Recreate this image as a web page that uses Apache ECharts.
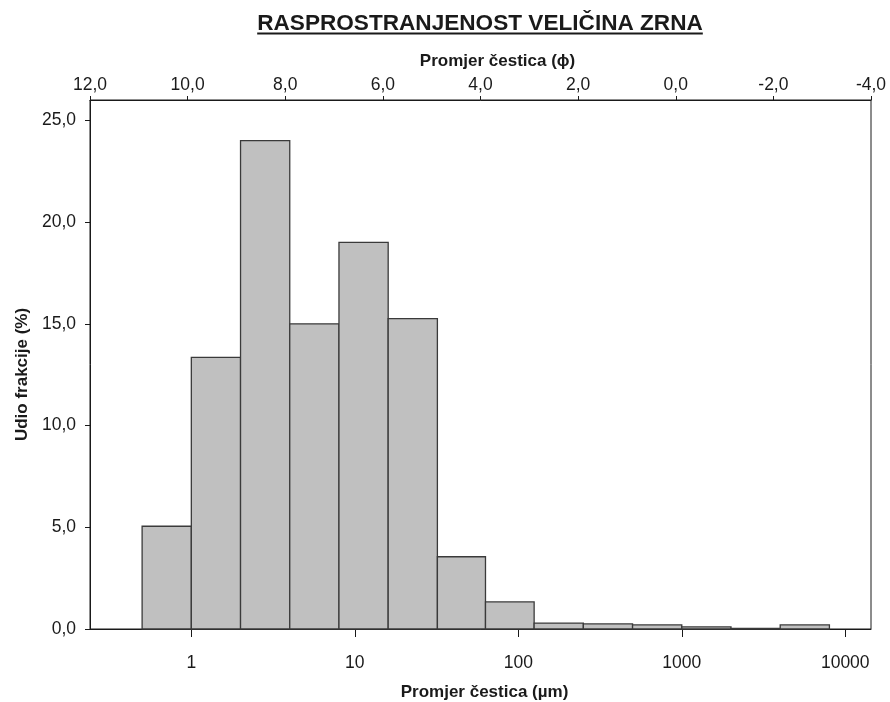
<!DOCTYPE html>
<html>
<head>
<meta charset="utf-8">
<script src="https://cdn.jsdelivr.net/npm/echarts@6/dist/echarts.min.js"></script>
<style>
  html, body { margin: 0; padding: 0; background: #fff; }
  #chart { width: 890px; height: 702px; }
</style>
</head>
<body>
<div id="chart"></div>
<script>
// Grain-size classes: lower / upper bound in µm and share of each class in %
const classLowerUm = [0.5, 1, 2, 4, 8, 16, 32, 63, 125, 250, 500, 1000, 2000, 4000];
const classUpperUm = [1, 2, 4, 8, 16, 32, 63, 125, 250, 500, 1000, 2000, 4000, 8000];
const classSharePct = [5.05, 13.35, 24.0, 15.0, 19.0, 15.25, 3.55, 1.33, 0.29, 0.25, 0.2, 0.1, 0.03, 0.2];

// Tick values
const umTickValues = [1, 10, 100, 1000, 10000];
const pctTickValues = [0, 5, 10, 15, 20, 25];
const phiMin = -4, phiMax = 12, phiStep = 2;

// Axis extents
const umAxisMin = 0.24, umAxisMax = 14370;
const pctAxisMax = 26;

const FONT = '"Liberation Sans", Arial, sans-serif';
const INK = '#1a1a1a';
const titleText = 'RASPROSTRANJENOST VELIČINA ZRNA';
const titleSize = 22.6;
const tickSize = 17.5;

const commaFmt = v => v.toFixed(1).replace('.', ',');

// bars are placed on a log10 µm value axis
const barData = classSharePct.map((v, i) => [
  Math.log10(classLowerUm[i]), Math.log10(classUpperUm[i]), v
]);

// width of the title, for its underline
const measureCtx = document.createElement('canvas').getContext('2d');
measureCtx.font = 'bold ' + titleSize + 'px "Liberation Sans"';
const titleWidth = measureCtx.measureText(titleText).width;
const titleCx = 480;

const chart = echarts.init(document.getElementById('chart'), null, { renderer: 'canvas' });

const option = {
  animation: false,
  backgroundColor: '#fff',
  textStyle: { fontFamily: FONT, color: INK },
  grid: {
    left: 90, right: 19, top: 100, bottom: 73,
    containLabel: false,
    outerBoundsMode: 'none',
    show: true, borderColor: INK, borderWidth: 1, backgroundColor: 'transparent'
  },
  graphic: [
    {
      type: 'text', x: titleCx, y: 23.5,
      style: {
        text: titleText, fill: INK, align: 'center', verticalAlign: 'middle',
        font: 'bold ' + titleSize + 'px ' + FONT
      }
    },
    {
      type: 'line',
      shape: { x1: titleCx - titleWidth / 2, y1: 33.5, x2: titleCx + titleWidth / 2, y2: 33.5 },
      style: { stroke: INK, lineWidth: 2 }
    }
  ],
  xAxis: [
    {
      type: 'value',
      position: 'bottom',
      min: Math.log10(umAxisMin),
      max: Math.log10(umAxisMax),
      name: 'Promjer čestica (µm)',
      nameLocation: 'middle',
      nameGap: 55,
      nameTextStyle: { fontWeight: 'bold', fontSize: 17, color: INK, padding: [0, 0, 0, 8] },
      splitLine: { show: false },
      axisLine: { show: true, onZero: false, lineStyle: { color: INK, width: 1 } },
      axisTick: {
        show: true, length: 8, lineStyle: { color: INK },
        customValues: umTickValues.map(v => Math.log10(v))
      },
      axisLabel: {
        customValues: umTickValues.map(v => Math.log10(v)),
        formatter: v => String(Math.round(Math.pow(10, v))),
        fontSize: tickSize, color: INK, margin: 25
      }
    },
    {
      type: 'value',
      position: 'top',
      inverse: true,
      min: phiMin,
      max: phiMax,
      interval: phiStep,
      name: 'Promjer čestica (ϕ)',
      nameLocation: 'middle',
      nameGap: 30,
      nameTextStyle: { fontWeight: 'bold', fontSize: 17, color: INK, padding: [0, 0, 0, 34] },
      splitLine: { show: false },
      axisLine: { show: true, onZero: false, lineStyle: { color: INK, width: 1 } },
      axisTick: { show: true, length: 4, lineStyle: { color: INK } },
      axisLabel: { formatter: commaFmt, fontSize: tickSize, color: INK, margin: 6 }
    }
  ],
  yAxis: {
    type: 'value',
    min: 0,
    max: pctAxisMax,
    name: 'Udio frakcije (%)',
    nameLocation: 'middle',
    nameRotate: 90,
    nameGap: 58,
    nameTextStyle: { fontWeight: 'bold', fontSize: 17, color: INK, padding: [0, 20, 0, 0] },
    splitLine: { show: false },
    axisLine: { show: true, onZero: false, lineStyle: { color: INK, width: 1 } },
    axisTick: { show: true, length: 5, lineStyle: { color: INK }, customValues: pctTickValues },
    axisLabel: { customValues: pctTickValues, formatter: commaFmt, fontSize: tickSize, color: INK, margin: 14 }
  },
  series: [
    {
      type: 'custom',
      xAxisIndex: 0,
      yAxisIndex: 0,
      data: barData,
      encode: { x: [0, 1], y: 2 },
      renderItem: function (params, api) {
        const p0 = api.coord([api.value(0), api.value(2)]);
        const p1 = api.coord([api.value(1), 0]);
        return {
          type: 'rect',
          shape: { x: p0[0], y: p0[1], width: p1[0] - p0[0], height: p1[1] - p0[1] },
          style: { fill: '#c0c0c0', stroke: '#3a3a3a', lineWidth: 1.3 }
        };
      }
    }
  ]
};

chart.setOption(option);
</script>
</body>
</html>
